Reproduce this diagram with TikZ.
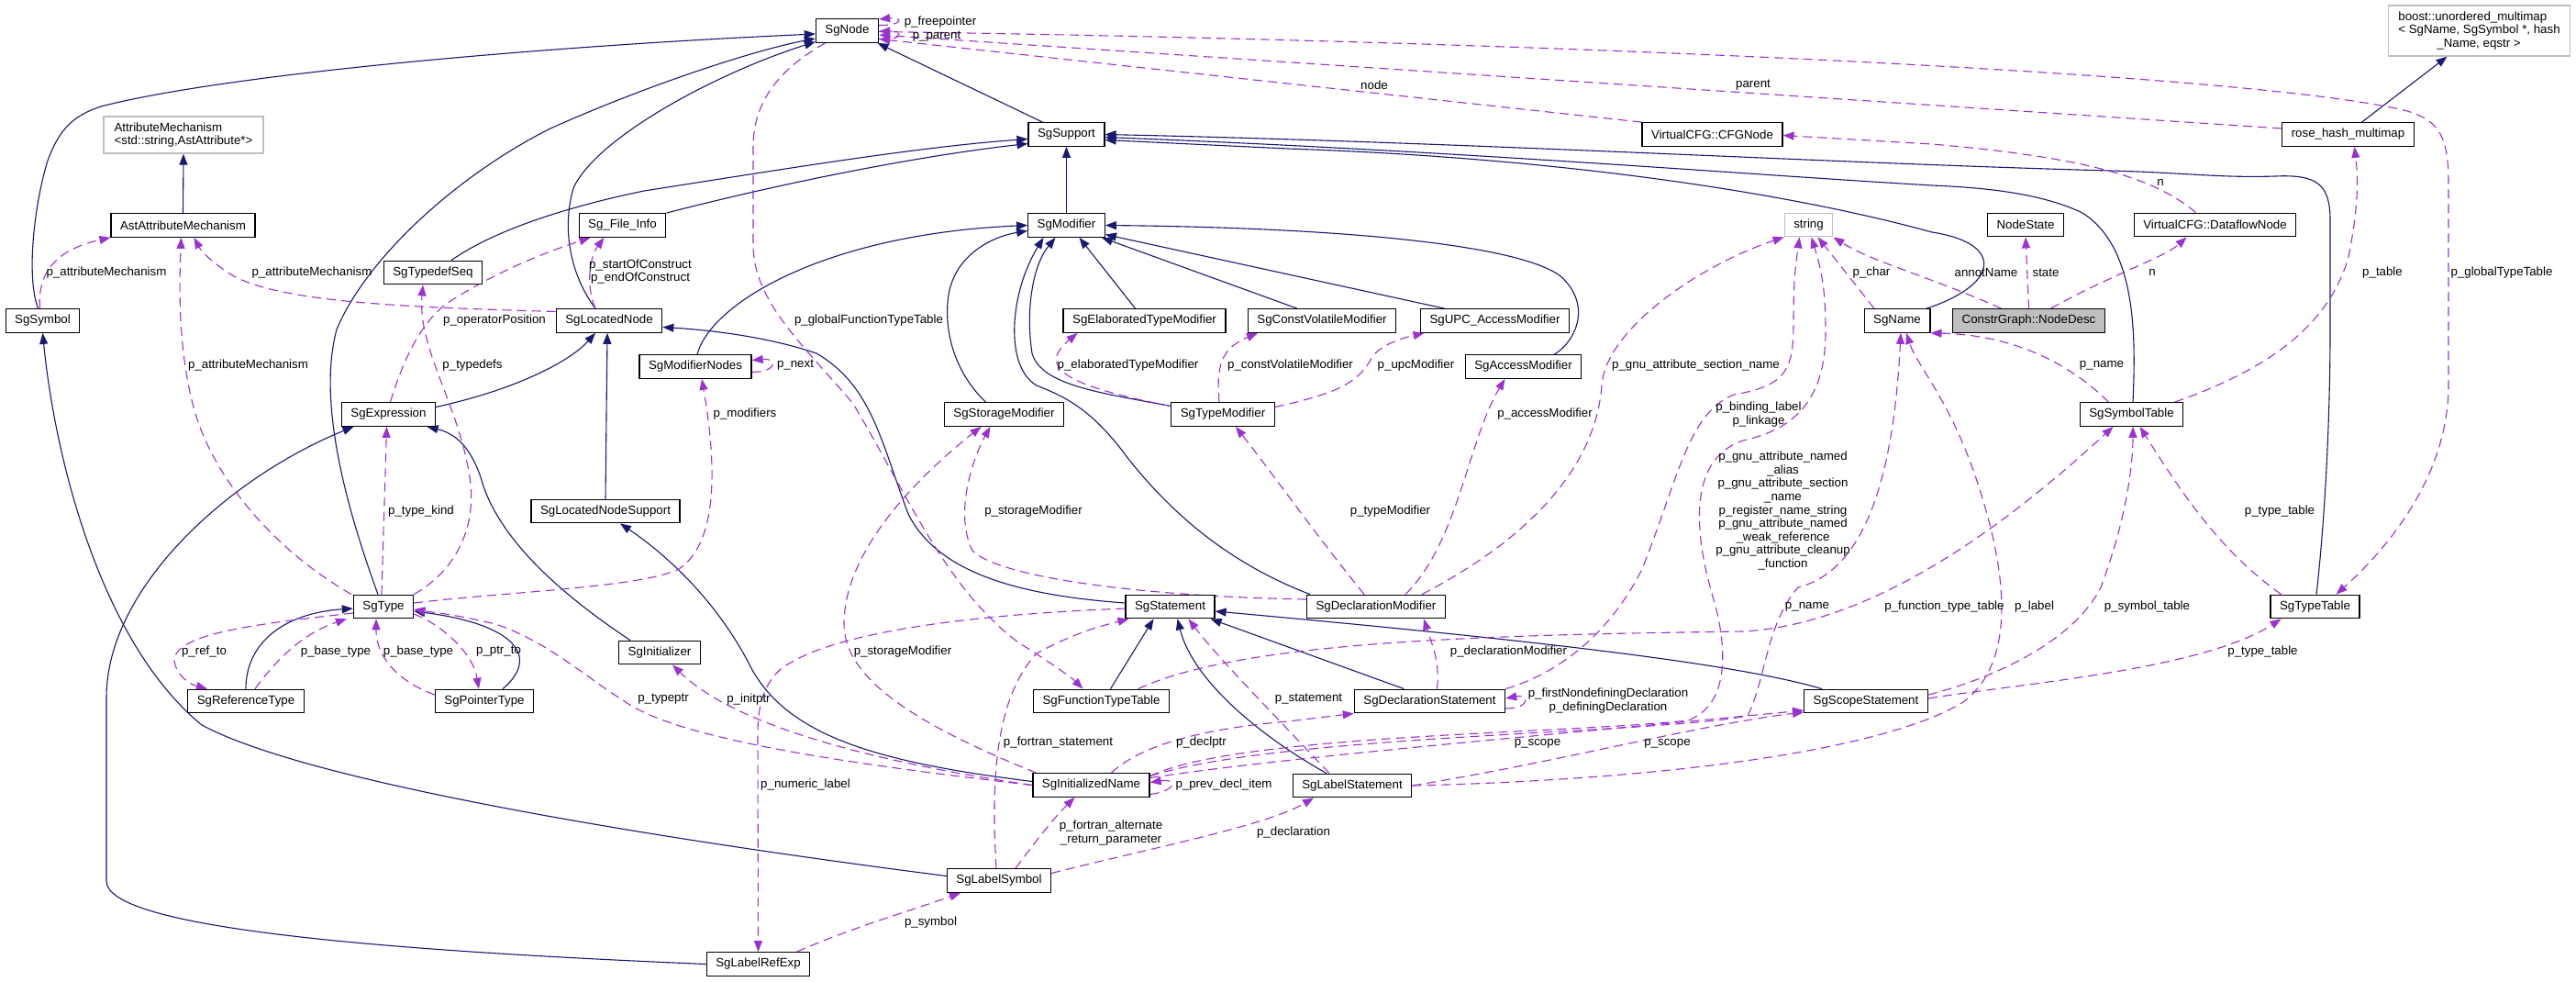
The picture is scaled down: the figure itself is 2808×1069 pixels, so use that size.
\documentclass[tikz,border=0pt]{standalone}
\usepackage{fontspec}
\setmainfont{Liberation Sans}
\usetikzlibrary{arrows.meta}
\definecolor{edgeblue}{HTML}{191970}
\definecolor{edgepurple}{HTML}{9A32CD}
\definecolor{grayborder}{HTML}{BFBFBF}
\newcommand\dgf{\fontsize{13.3}{14.6}\selectfont}
\pgfdeclarelayer{edges}
\pgfdeclarelayer{paper}
\pgfsetlayers{paper,edges,main}
\tikzset{
  cbox/.style={draw=black, line width=1.3pt, fill=white, inner xsep=10pt, inner ysep=0pt, minimum height=25.5pt, font=\dgf},
  gbox/.style={cbox, draw=grayborder},
  inhedge/.style={draw=edgeblue, line width=1.1pt, -{Triangle[length=12pt,width=9pt]}},
  useedge/.style={draw=edgepurple, line width=1.1pt, dash pattern=on 10pt off 6pt, -{Triangle[length=12pt,width=9pt]}},
  lab/.style={inner sep=0pt, font=\dgf, align=center}
}
\begin{document}
\begin{tikzpicture}[x=1pt,y=-1pt]
\begin{pgfonlayer}{paper}
\fill[white] (0,0) rectangle (2808,1069);
\end{pgfonlayer}
\useasboundingbox (0,0) rectangle (2808,1069);

% ---------- nodes ----------
\node[cbox] (SgNode) at (923.5,33.5) {SgNode};
\node[gbox, align=left, minimum height=40pt, inner xsep=11.5pt] (AttributeMechanism) at (200,147) {AttributeMechanism\\<std::string,AstAttribute*>};
\node[cbox] (AstAttributeMechanism) at (199.5,245.5) {AstAttributeMechanism};
\node[cbox] (SgSupport) at (1162.5,146.5) {SgSupport};
\node[cbox] (CFGNode) at (1866.5,146.5) {VirtualCFG::CFGNode};
\node[cbox] (rose) at (2559.5,146.5) {rose\_hash\_multimap};
\node[gbox, align=left, minimum height=55pt, inner xsep=11pt] (boost) at (2702.5,33.5) {boost::unordered\_multimap\\< SgName, SgSymbol *, hash\\\hspace*{42pt}\_Name, eqstr >};
\node[cbox] (SgModifier) at (1162.5,245.5) {SgModifier};
\node[cbox] (FileInfo) at (678.5,245.5) {Sg\_File\_Info};
\node[gbox] (string) at (1971.5,245) {string};
\node[cbox] (NodeState) at (2208,245) {NodeState};
\node[cbox] (DataflowNode) at (2414.5,245) {VirtualCFG::DataflowNode};
\node[cbox] (SgSymbol) at (46.5,349.5) {SgSymbol};
\node[cbox] (SgTypedefSeq) at (472,297) {SgTypedefSeq};
\node[cbox] (SgLocatedNode) at (664,349.5) {SgLocatedNode};
\node[cbox] (SgElab) at (1247.5,349.5) {SgElaboratedTypeModifier};
\node[cbox] (SgCV) at (1441,349.5) {SgConstVolatileModifier};
\node[cbox] (SgUPC) at (1629.5,349.5) {SgUPC\_AccessModifier};
\node[cbox] (SgName) at (2068,349.5) {SgName};
\node[cbox, fill=grayborder] (NodeDesc) at (2211.5,349.5) {ConstrGraph::NodeDesc};
\node[cbox] (SgModifierNodes) at (758,399.5) {SgModifierNodes};
\node[cbox] (SgAccessModifier) at (1660.5,399.5) {SgAccessModifier};
\node[cbox] (SgExpression) at (423.5,451.5) {SgExpression};
\node[cbox] (SgStorageModifier) at (1094.5,451.5) {SgStorageModifier};
\node[cbox] (SgTypeModifier) at (1333,451.5) {SgTypeModifier};
\node[cbox] (SgSymbolTable) at (2323.5,451.5) {SgSymbolTable};
\node[cbox] (SgLocatedNodeSupport) at (660,557) {SgLocatedNodeSupport};
\node[cbox] (SgType) at (418,661) {SgType};
\node[cbox] (SgStatement) at (1275.5,661) {SgStatement};
\node[cbox] (SgDeclarationModifier) at (1500,661) {SgDeclarationModifier};
\node[cbox] (SgTypeTable) at (2523.5,661) {SgTypeTable};
\node[cbox] (SgInitializer) at (719,711) {SgInitializer};
\node[cbox] (SgReferenceType) at (268,764) {SgReferenceType};
\node[cbox] (SgPointerType) at (528,764) {SgPointerType};
\node[cbox] (SgFunctionTypeTable) at (1200.5,764) {SgFunctionTypeTable};
\node[cbox] (SgDeclarationStatement) at (1558.5,764) {SgDeclarationStatement};
\node[cbox] (SgScopeStatement) at (2034,764) {SgScopeStatement};
\node[cbox] (SgInitializedName) at (1189.5,855.5) {SgInitializedName};
\node[cbox] (SgLabelStatement) at (1474,856) {SgLabelStatement};
\node[cbox] (SgLabelSymbol) at (1089,959.5) {SgLabelSymbol};
\node[cbox] (SgLabelRefExp) at (826.5,1050.5) {SgLabelRefExp};

% ---------- edges ----------
\begin{pgfonlayer}{edges}
% inheritance
\draw[inhedge] ([xshift=-5pt]SgSymbol.north) .. controls (28,300) and (38,220) .. (52,175) .. controls (65,140) and (80,126) .. (110,116) .. controls (250,80) and (600,50) .. ([yshift=-3.5pt]SgNode.west);
\draw[inhedge] ([xshift=-6pt]SgType.north) .. controls (380,560) and (345,440) .. (367,359) .. controls (400,280) and (500,190) .. (600,140) .. controls (700,95) and (820,55) .. ([yshift=-8.5pt]SgNode.west);
\draw[inhedge] ([xshift=-15pt]SgLocatedNode.north) .. controls (622,300) and (612,250) .. (625,205) .. controls (650,150) and (780,80) .. ([yshift=-12pt]SgNode.west);
\draw[inhedge] ([xshift=-26pt]SgSupport.north) -- ([xshift=33pt]SgNode.south);
\draw[inhedge] (AstAttributeMechanism.north) -- (AttributeMechanism.south);
\draw[inhedge] (FileInfo.north east) .. controls (850,200) and (1000,170) .. ([yshift=-10pt]SgSupport.west);
\draw[inhedge] ([xshift=20pt]SgTypedefSeq.north) .. controls (540,250) and (620,225) .. (702,208) .. controls (850,185) and (1000,160) .. ([yshift=-5pt]SgSupport.west);
\draw[inhedge] (SgModifier.north) -- (SgSupport.south);
\draw[inhedge] ([xshift=32pt]SgName.north) .. controls (2180,310) and (2185,265) .. (2106,253) .. controls (1950,210) and (1700,172) .. (1404,162) -- ([yshift=-6pt]SgSupport.east);
\draw[inhedge] ([xshift=1.5pt]SgSymbolTable.north) .. controls (2328,370) and (2330,270) .. (2270,232) .. controls (2220,208) and (2150,204) .. (2106,202) .. controls (1900,190) and (1600,165) .. ([yshift=-3pt]SgSupport.east);
\draw[inhedge] ([xshift=1.5pt]SgTypeTable.north) .. controls (2535,560) and (2540,450) .. (2540,360) -- (2540,240) .. controls (2540,200) and (2525,190) .. (2480,192) .. controls (2420,194) and (2380,188) .. (2300,186) .. controls (2000,178) and (1600,155) .. (SgSupport.east);
\draw[inhedge] ([xshift=2pt]SgModifierNodes.north) .. controls (775,330) and (900,255) .. (SgModifier.west);
\draw[inhedge] ([xshift=-20pt]SgStorageModifier.north) .. controls (1045,410) and (1030,370) .. (1033,330) .. controls (1036,280) and (1080,258) .. ([yshift=-6pt]SgModifier.west);
\draw[inhedge] ([yshift=9pt]SgTypeModifier.west) .. controls (1200,428) and (1135,420) .. (1125,385) .. controls (1118,340) and (1125,290) .. ([xshift=-12pt]SgModifier.south);
\draw[inhedge] ([xshift=-72pt]SgDeclarationModifier.north) .. controls (1330,610) and (1270,550) .. (1230,500) .. controls (1190,445) and (1160,432) .. (1130,420) .. controls (1095,400) and (1100,320) .. ([xshift=-25pt]SgModifier.south);
\draw[inhedge] ([xshift=-10pt]SgElab.north) -- ([xshift=14pt]SgModifier.south);
\draw[inhedge] ([xshift=-27pt]SgCV.north) -- ([xshift=-4pt]SgModifier.south east);
\draw[inhedge] ([xshift=-55pt]SgUPC.north) -- ([yshift=-10pt]SgModifier.east);
\draw[inhedge] ([xshift=34pt]SgAccessModifier.north) .. controls (1720,370) and (1735,330) .. (1700,300) .. controls (1650,265) and (1450,248) .. (SgModifier.east);
\draw[inhedge] ([yshift=8pt]SgExpression.east) .. controls (560,425) and (620,395) .. ([xshift=-15pt]SgLocatedNode.south);
\draw[inhedge] (SgLocatedNodeSupport.north) -- ([xshift=-2pt]SgLocatedNode.south);
\draw[inhedge] ([yshift=4pt]SgStatement.west) .. controls (1100,648) and (1020,620) .. (990,560) .. controls (960,480) and (950,420) .. (890,385) .. controls (840,368) and (780,360) .. ([yshift=-7pt]SgLocatedNode.east);
\draw[inhedge] ([xshift=-32pt]SgInitializer.north) .. controls (600,640) and (540,580) .. (524,520) .. controls (512,485) and (495,472) .. ([xshift=42pt]SgExpression.south);
\draw[inhedge] (SgLabelRefExp.west) .. controls (400,1035) and (116,1010) .. (116,960) -- (116,760) .. controls (116,640) and (250,520) .. ([xshift=-38pt]SgExpression.south);
\draw[inhedge] ([yshift=5pt]SgLabelSymbol.west) .. controls (800,925) and (350,860) .. (220,790) .. controls (110,700) and (60,500) .. (SgSymbol.south);
\draw[inhedge] (SgReferenceType.north) .. controls (268,700) and (310,668) .. ([yshift=-2pt]SgType.west);
\draw[inhedge] ([xshift=20pt]SgPointerType.north) .. controls (590,715) and (560,680) .. ([yshift=-5pt]SgType.east);
\draw[inhedge] ([xshift=10pt]SgFunctionTypeTable.north) -- ([xshift=-18pt]SgStatement.south);
\draw[inhedge] ([xshift=-28pt]SgDeclarationStatement.north) -- ([xshift=-5pt]SgStatement.south east);
\draw[inhedge] ([xshift=-28pt]SgLabelStatement.north) .. controls (1370,800) and (1300,740) .. ([xshift=8pt]SgStatement.south);
\draw[inhedge] ([xshift=-48pt]SgScopeStatement.north) .. controls (1900,725) and (1700,700) .. ([yshift=-5pt]SgStatement.east);
\draw[inhedge] ([yshift=4pt]SgInitializedName.west) .. controls (950,830) and (860,800) .. (820,730) .. controls (780,650) and (720,600) .. ([xshift=16pt]SgLocatedNodeSupport.south);
\draw[inhedge] ([xshift=15pt]rose.north) -- ([xshift=-35pt]boost.south);

% usage (dashed)
\draw[useedge] ([yshift=6pt]SgNode.east) .. controls (985,28) and (985,18) .. ([yshift=12.5pt]SgNode.east);
\draw[useedge] ([yshift=-9pt]SgNode.east) .. controls (985,44) and (985,34) .. ([yshift=-0.5pt]SgNode.east);
\draw[useedge] (CFGNode.north west) -- ([yshift=-9pt]SgNode.east);
\draw[useedge] ([yshift=6.5pt]rose.west) -- ([yshift=-4.5pt]SgNode.east);
\draw[useedge] ([yshift=-1pt]SgNode.east) .. controls (1700,45) and (2450,80) .. (2620,120) .. controls (2660,130) and (2669,150) .. (2669,200) -- (2669,420) .. controls (2669,520) and (2600,600) .. ([xshift=23pt]SgTypeTable.north);
\draw[useedge] ([xshift=-21pt]DataflowNode.north) .. controls (2350,195) and (2280,172) .. (2106,157) -- ([yshift=-1pt]CFGNode.east);
\draw[useedge] ([xshift=24pt]NodeDesc.north) .. controls (2300,300) and (2360,280) .. ([xshift=-31pt]DataflowNode.south);
\draw[useedge] (NodeDesc.north) -- (NodeState.south);
\draw[useedge] ([xshift=-30pt]NodeDesc.north) .. controls (2100,300) and (2040,285) .. (string.south east);
\draw[useedge] ([xshift=-25pt]SgName.north) -- ([xshift=10pt]string.south);
\draw[useedge] ([xshift=50pt]SgDeclarationModifier.north) .. controls (1680,580) and (1740,500) .. (1746,420) .. controls (1750,360) and (1850,290) .. (string.south west);
\draw[useedge] (SgDeclarationStatement.north east) .. controls (1710,730) and (1760,680) .. (1790,620) .. controls (1830,520) and (1840,450) .. (1890,430) .. controls (1950,420) and (1955,400) .. (1955,350) .. controls (1955,300) and (1958,285) .. ([xshift=-10pt]string.south);
\draw[useedge] ([yshift=10pt]SgInitializedName.east) .. controls (1350,800) and (1700,800) .. (1840,785) .. controls (1880,770) and (1885,720) .. (1870,660) .. controls (1845,580) and (1840,500) .. (1900,480) .. controls (1970,465) and (1990,420) .. (1990,360) .. controls (1990,310) and (1984,290) .. ([xshift=3pt]string.south);
\draw[useedge] ([yshift=10pt]SgInitializedName.east) .. controls (1400,800) and (1800,800) .. (1905,780) .. controls (1925,740) and (1925,680) .. (1960,640) .. controls (2040,620) and (2065,500) .. ([xshift=4pt]SgName.south);
\draw[useedge] ([yshift=8pt]SgInitializedName.east) .. controls (1400,825) and (1700,800) .. ([yshift=-10pt]SgScopeStatement.west);
\draw[useedge] (SgLabelStatement.east) .. controls (1700,830) and (1850,790) .. ([yshift=-12pt]SgScopeStatement.west);
\draw[useedge] (SgLabelStatement.east) .. controls (1800,850) and (2050,820) .. (2140,765) .. controls (2200,720) and (2185,620) .. (2160,540) .. controls (2130,440) and (2090,400) .. ([xshift=10pt]SgName.south);
\draw[useedge] ([xshift=40pt]SgFunctionTypeTable.north) .. controls (1350,700) and (1600,692) .. (1900,688) .. controls (2050,680) and (2200,560) .. ([xshift=-20pt]SgSymbolTable.south);
\draw[useedge] ([yshift=7pt]SgScopeStatement.east) .. controls (2170,740) and (2260,700) .. (2290,640) .. controls (2320,560) and (2325,500) .. ([xshift=1.5pt]SgSymbolTable.south);
\draw[useedge] ([yshift=3pt]SgScopeStatement.east) .. controls (2200,745) and (2400,730) .. ([xshift=-37pt]SgTypeTable.south);
\draw[useedge] ([xshift=-37pt]SgTypeTable.north) .. controls (2420,600) and (2380,540) .. ([xshift=9pt]SgSymbolTable.south);
\draw[useedge] ([xshift=-25pt]SgSymbolTable.north) .. controls (2260,400) and (2200,365) .. (SgName.south east);
\draw[useedge] ([xshift=47pt]SgSymbolTable.north) .. controls (2480,400) and (2540,350) .. (2560,280) .. controls (2572,220) and (2570,190) .. ([xshift=7pt]rose.south);
\draw[useedge] ([yshift=-8pt]SgDeclarationStatement.east) .. controls (1668,772) and (1668,756) .. ([yshift=3pt]SgDeclarationStatement.east);
\draw[useedge] ([xshift=8pt]SgDeclarationStatement.north) .. controls (1570,720) and (1560,700) .. ([xshift=52pt]SgDeclarationModifier.south);
\draw[useedge] ([xshift=-13pt]SgDeclarationModifier.north) .. controls (1440,590) and (1390,520) .. ([xshift=14pt]SgTypeModifier.south);
\draw[useedge] ([xshift=32pt]SgDeclarationModifier.north) .. controls (1590,590) and (1600,480) .. ([xshift=-20pt]SgAccessModifier.south);
\draw[useedge] ([yshift=8pt]SgDeclarationModifier.west) .. controls (1250,650) and (1090,630) .. (1060,600) .. controls (1040,560) and (1060,500) .. ([xshift=-15pt]SgStorageModifier.south);
\draw[useedge] ([xshift=-60pt]SgInitializedName.north) .. controls (1000,790) and (920,740) .. (920,680) .. controls (920,600) and (1000,520) .. ([xshift=-25pt]SgStorageModifier.south);
\draw[useedge] ([yshift=9pt]SgTypeModifier.west) .. controls (1160,420) and (1130,400) .. ([xshift=-73pt]SgElab.south);
\draw[useedge] ([xshift=-4pt]SgTypeModifier.north) .. controls (1326,400) and (1330,380) .. ([xshift=-70pt]SgCV.south);
\draw[useedge] ([yshift=8pt]SgTypeModifier.east) .. controls (1450,430) and (1480,420) .. (1495,390) .. controls (1505,375) and (1530,368) .. ([xshift=-77pt]SgUPC.south);
\draw[useedge] ([xshift=-35pt]SgType.north) .. controls (300,600) and (230,520) .. (210,440) .. controls (195,380) and (195,320) .. ([xshift=-2pt]AstAttributeMechanism.south);
\draw[useedge] ([xshift=-3pt]SgSymbol.north) .. controls (40,290) and (70,270) .. (AstAttributeMechanism.south west);
\draw[useedge] ([yshift=10pt]SgLocatedNode.west) .. controls (450,335) and (300,330) .. (250,298) .. controls (232,286) and (220,275) .. ([xshift=12pt]AstAttributeMechanism.south);
\draw[useedge] ([xshift=-15pt]SgLocatedNode.north) .. controls (638,310) and (643,280) .. ([xshift=-20pt]FileInfo.south);
\draw[useedge] ([xshift=2pt]SgExpression.north) .. controls (440,390) and (460,350) .. (488,330) .. controls (550,290) and (610,270) .. ([xshift=-35pt]FileInfo.south);
\draw[useedge] (SgType.north east) .. controls (500,620) and (520,570) .. (512,520) .. controls (500,440) and (455,380) .. ([xshift=-11pt]SgTypedefSeq.south);
\draw[useedge] ([xshift=-2pt]SgType.north) -- ([xshift=-2pt]SgExpression.south);
\draw[useedge] ([yshift=4pt]SgType.east) .. controls (550,645) and (700,640) .. (740,620) .. controls (785,590) and (780,500) .. ([xshift=7pt]SgModifierNodes.south);
\draw[useedge] ([yshift=-6pt]SgModifierNodes.east) .. controls (848,405) and (848,390) .. ([yshift=7pt]SgModifierNodes.east);
\draw[useedge] ([yshift=-7pt]SgType.west) .. controls (280,680) and (190,690) .. (190,720) .. controls (192,735) and (205,745) .. ([xshift=-42pt]SgReferenceType.north);
\draw[useedge] ([xshift=10pt]SgReferenceType.north) .. controls (300,720) and (330,690) .. ([xshift=-40pt]SgType.south);
\draw[useedge] ([yshift=7pt]SgPointerType.west) .. controls (440,745) and (410,720) .. ([xshift=-8pt]SgType.south);
\draw[useedge] ([yshift=-8pt]SgType.east) .. controls (480,680) and (515,710) .. ([xshift=-6pt]SgPointerType.north);
\draw[useedge] ([xshift=-24pt]SgNode.south) .. controls (850,75) and (821,110) .. (821,160) -- (821,267) .. controls (821,330) and (880,380) .. (930,440) .. controls (990,540) and (1030,640) .. (1110,700) .. controls (1150,725) and (1170,740) .. ([xshift=-20pt]SgFunctionTypeTable.north);
\draw[useedge] ([yshift=-2pt]SgStatement.west) .. controls (1050,670) and (900,690) .. (850,730) .. controls (828,750) and (826,780) .. (826,800) -- (SgLabelRefExp.north);
\draw[useedge] ([xshift=-3pt]SgLabelSymbol.north) .. controls (1080,850) and (1085,760) .. (1130,712) .. controls (1170,690) and (1200,682) .. ([xshift=-45pt]SgStatement.south);
\draw[useedge] ([xshift=-25pt]SgLabelStatement.north) .. controls (1400,790) and (1330,720) .. ([xshift=20pt]SgStatement.south);
\draw[useedge] (SgInitializedName.west) .. controls (950,835) and (760,810) .. (690,770) .. controls (640,740) and (600,700) .. (540,680) .. controls (500,670) and (470,667) .. ([yshift=-3pt]SgType.east);
\draw[useedge] (SgInitializedName.west) .. controls (950,830) and (800,790) .. ([xshift=14pt]SgInitializer.south);
\draw[useedge] ([xshift=22pt]SgInitializedName.north) .. controls (1240,815) and (1300,795) .. (1404,786) -- (SgDeclarationStatement.south west);
\draw[useedge] ([yshift=-10pt]SgInitializedName.east) .. controls (1282,862) and (1285,848) .. ([yshift=3pt]SgInitializedName.east);
\draw[useedge] ([xshift=18pt]SgLabelSymbol.north) .. controls (1130,915) and (1150,890) .. ([xshift=-18pt]SgInitializedName.south);
\draw[useedge] ([yshift=8pt]SgLabelSymbol.east) .. controls (1250,925) and (1380,900) .. ([xshift=-42pt]SgLabelStatement.south);
\draw[useedge] ([xshift=42pt]SgLabelRefExp.north) .. controls (930,1010) and (1000,990) .. ([xshift=-42pt]SgLabelSymbol.south);
\end{pgfonlayer}

% ---------- labels ----------
\node[lab] (l1) at (1025,24) {p\_freepointer};
\node[lab] (l2) at (1021,40) {p\_parent};
\node[lab] (l3) at (1498,93) {node};
\node[lab] (l4) at (1911,93) {parent};
\node[lab] (l5) at (2355,199) {n};
\node[lab] (l6) at (116,297) {p\_attributeMechanism};
\node[lab] (l7) at (340,297) {p\_attributeMechanism};
\node[lab] (l8) at (270.5,398) {p\_attributeMechanism};
\node[lab] (l9) at (539,349) {p\_operatorPosition};
\node[lab] (l10) at (698,296) {p\_startOfConstruct\\p\_endOfConstruct};
\node[lab] (l11) at (947,349) {p\_globalFunctionTypeTable};
\node[lab] (l12) at (2040,297) {p\_char};
\node[lab] (l13) at (2165,297) {annotName};
\node[lab] (l14) at (2230,297) {state};
\node[lab] (l15) at (2346,297) {n};
\node[lab] (l16) at (2597,297) {p\_table};
\node[lab] (l17) at (2727,297) {p\_globalTypeTable};
\node[lab] (l18) at (515,398) {p\_typedefs};
\node[lab] (l19) at (867,398) {p\_next};
\node[lab] (l20) at (1229.5,398) {p\_elaboratedTypeModifier};
\node[lab] (l21) at (1406.5,398) {p\_constVolatileModifier};
\node[lab] (l22) at (1543.5,398) {p\_upcModifier};
\node[lab] (l23) at (1848.5,398) {p\_gnu\_attribute\_section\_name};
\node[lab] (l24) at (2291,398) {p\_name};
\node[lab] (l25) at (812,451) {p\_modifiers};
\node[lab] (l26) at (1684,451) {p\_accessModifier};
\node[lab] (l27) at (1917,451.5) {p\_binding\_label\\p\_linkage};
\node[lab] (l28) at (459,557) {p\_type\_kind};
\node[lab] (l29) at (1126.5,557) {p\_storageModifier};
\node[lab] (l30) at (1515.5,557) {p\_typeModifier};
\node[lab] (l31) at (1943.5,556.5) {p\_gnu\_attribute\_named\\\_alias\\p\_gnu\_attribute\_section\\\_name\\p\_register\_name\_string\\p\_gnu\_attribute\_named\\\_weak\_reference\\p\_gnu\_attribute\_cleanup\\\_function};
\node[lab] (l32) at (2485,557) {p\_type\_table};
\node[lab] (l33) at (1970,661) {p\_name};
\node[lab] (l34) at (2119.5,661) {p\_function\_type\_table};
\node[lab] (l35) at (2217.5,661) {p\_label};
\node[lab] (l36) at (2340.5,661) {p\_symbol\_table};
\node[lab] (l37) at (222.5,710) {p\_ref\_to};
\node[lab] (l38) at (366,710) {p\_base\_type};
\node[lab] (l39) at (456,710) {p\_base\_type};
\node[lab] (l40) at (543.5,710) {p\_ptr\_to};
\node[lab] (l41) at (984,710) {p\_storageModifier};
\node[lab] (l42) at (1644.5,710) {p\_declarationModifier};
\node[lab] (l43) at (2466.5,710) {p\_type\_table};
\node[lab] (l44) at (723,762) {p\_typeptr};
\node[lab] (l45) at (816,762) {p\_initptr};
\node[lab] (l46) at (1426.5,762) {p\_statement};
\node[lab] (l47) at (1753,763.5) {p\_firstNondefiningDeclaration\\p\_definingDeclaration};
\node[lab] (l48) at (1153.5,809) {p\_fortran\_statement};
\node[lab] (l49) at (1309.5,809) {p\_declptr};
\node[lab] (l50) at (1676,810) {p\_scope};
\node[lab] (l51) at (1817.5,810) {p\_scope};
\node[lab] (l52) at (878,855) {p\_numeric\_label};
\node[lab] (l53) at (1334,855) {p\_prev\_decl\_item};
\node[lab] (l54) at (1211,907.5) {p\_fortran\_alternate\\\_return\_parameter};
\node[lab] (l55) at (1410,907) {p\_declaration};
\node[lab] (l56) at (1014.5,1005) {p\_symbol};
\end{tikzpicture}
\end{document}
